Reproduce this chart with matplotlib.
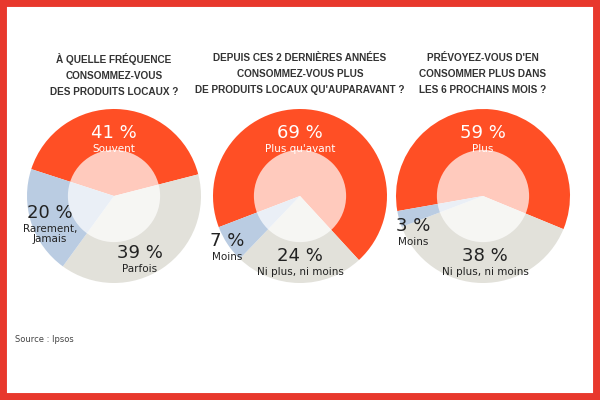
import matplotlib
matplotlib.use("Agg")
import matplotlib.pyplot as plt
from matplotlib.patches import Circle, Rectangle

titles = ["À QUELLE FRÉQUENCE\nCONSOMMEZ-VOUS\nDES PRODUITS LOCAUX ?",
          "DEPUIS CES 2 DERNIÈRES ANNÉES\nCONSOMMEZ-VOUS PLUS\nDE PRODUITS LOCAUX QU'AUPARAVANT ?",
          "PRÉVOYEZ-VOUS D'EN\nCONSOMMER PLUS DANS\nLES 6 PROCHAINS MOIS ?"]
labels1 = ["Souvent", "Parfois", "Rarement,\nJamais"]
values1 = [41, 39, 20]
labels2 = ["Plus qu'avant", "Ni plus, ni moins", "Moins"]
values2 = [69, 24, 7]
labels3 = ["Plus", "Ni plus, ni moins", "Moins"]
values3 = [59, 38, 3]
source = "Source : Ipsos"

colors = ["#FF4F25", "#E2E1DA", "#BACCE2"]
W, H = 600, 400
fig = plt.figure(figsize=(6, 4), dpi=100)
fig.add_artist(Rectangle((0, 0), 1, 1, transform=fig.transFigure, fill=False,
                         edgecolor="#E8382C", linewidth=10))

centers = [114, 300, 483]
starts = [162, 201, 190]
R = 87
CY = 196
labpos = [[(114, 133), (140, 253), (50, 213)],
          [(300, 133), (300, 256), (227, 241)],
          [(483, 133), (485, 256), (413, 226)]]
tcols = ["white", "#222222", "#222222"]
for i, (vals, labs) in enumerate([(values1, labels1), (values2, labels2), (values3, labels3)]):
    cx = centers[i]
    ax = fig.add_axes([(cx - R) / W, (H - CY - R) / H, 2 * R / W, 2 * R / H])
    ax.pie(vals, colors=colors, startangle=starts[i], counterclock=False,
           wedgeprops=dict(linewidth=0))
    ax.add_patch(Circle((0, 0), 0.53, facecolor="white", alpha=0.7, linewidth=0))
    ax.set_aspect("equal")
    ax.set_xlim(-1, 1); ax.set_ylim(-1, 1)
    ax.axis("off")
    for (x, y), v, l, c in zip(labpos[i], vals, labs, tcols):
        fig.text(x / W, 1 - y / H, f"{v} %", ha="center", va="center",
                 fontsize=13, color=c)
        fig.text(x / W, 1 - (y + 11) / H, l, ha="center", va="top",
                 fontsize=7.5, color=c, linespacing=1.0)
    fig.text(cx / W, 1 - 53 / H, titles[i], ha="center", va="top",
             fontsize=7.2, fontweight="bold", color="#333333", linespacing=1.75,
             family="Liberation Sans")

fig.text(15 / W, 1 - 340 / H, source, ha="left", va="center", fontsize=6, color="#444444")
fig.savefig("out.png", dpi=100)
